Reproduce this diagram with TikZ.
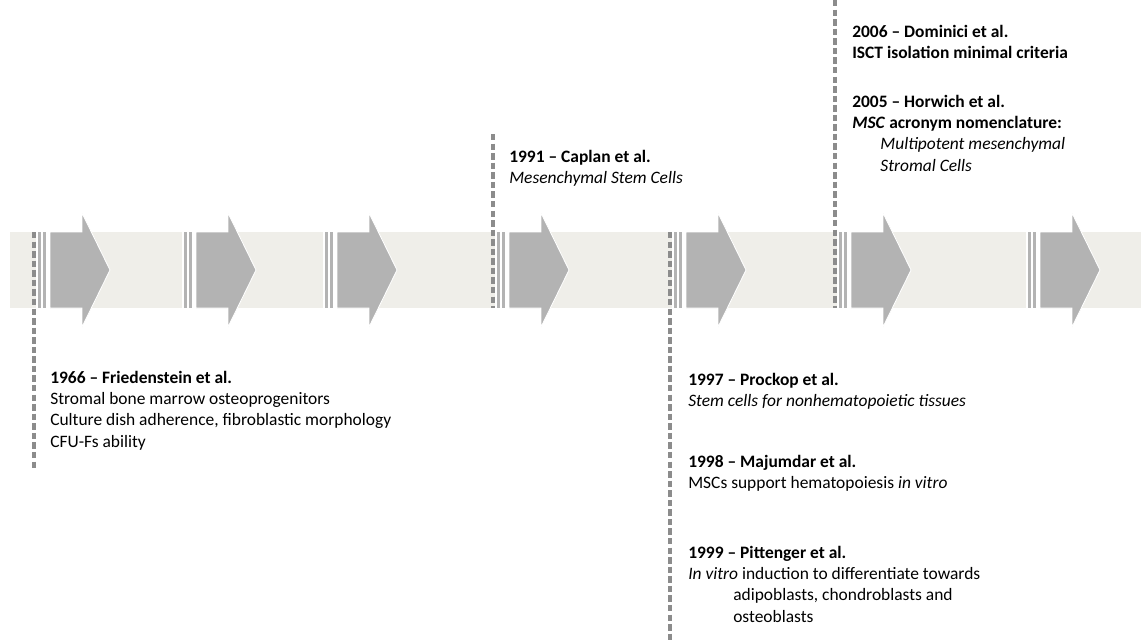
\documentclass[tikz,border=0pt]{standalone}
\usepackage{fontspec}
\setmainfont{Carlito}

\definecolor{bandcol}{HTML}{EFEEE9}
\definecolor{arrowgray}{HTML}{B3B3B3}
\definecolor{guidegray}{HTML}{8C8C8C}

\begin{document}
\begin{tikzpicture}[x=0.025cm, y=-0.025cm]
    \tikzset{
        arrowbody/.style={fill=arrowgray, draw=white, line width=0.6pt},
        guide/.style={draw=guidegray, line width=2.5pt, dash pattern=on 4.6pt off 2.2pt},
        entry/.style={anchor=north west, inner sep=0pt, align=left,
            font=\fontsize{12.4}{15.1}\selectfont},
    }

    \useasboundingbox (0,0) rectangle (1141,640);

    % Band
    \fill[bandcol] (10,232) rectangle (1141,308);

    % Arrows
    \foreach \b in {50,196,337,509,686,851,1040} {
        \fill[white] (\b-14,232) rectangle (\b,308);
        \fill[arrowgray] (\b-12,232) rectangle (\b-9.5,308);
        \fill[arrowgray] (\b-7,232) rectangle (\b-4.5,308);
        \draw[arrowbody] (\b,232) -- (\b+32,232) -- (\b+32,213) -- (\b+60,270)
            -- (\b+32,327) -- (\b+32,308) -- (\b,308) -- cycle;
    }

    % Guide lines
    \coordinate (g1top) at (34,232);
    \coordinate (g1bot) at (34,470);
    \coordinate (g2top) at (493,134);
    \coordinate (g2bot) at (493,308);
    \coordinate (g3top) at (670,232);
    \coordinate (g3bot) at (670,640);
    \coordinate (g4top) at (835,0);
    \coordinate (g4bot) at (835,308);
    \draw[guide] (g1top) -- (g1bot);
    \draw[guide] (g2top) -- (g2bot);
    \draw[guide] (g3top) -- (g3bot);
    \draw[guide] (g4top) -- (g4bot);

    % Entries
    \node[entry] (friedenstein) at (50,371) {\textbf{1966 – Friedenstein et al.}\\
        Stromal bone marrow osteoprogenitors\\
        Culture dish adherence, fibroblastic morphology\\
        CFU-Fs ability};
    \node[entry] (caplan) at (509,150) {\textbf{1991 – Caplan et al.}\\
        \textit{Mesenchymal Stem Cells}};
    \node[entry] (prockop) at (688,373) {\textbf{1997 – Prockop et al.}\\
        \textit{Stem cells for nonhematopoietic tissues}};
    \node[entry] (majumdar) at (688,455) {\textbf{1998 – Majumdar et al.}\\
        MSCs support hematopoiesis \textit{in vitro}};
    \node[entry] (pittenger) at (688,546) {\textbf{1999 – Pittenger et al.}\\
        \textit{In vitro} induction to differentiate towards\\
        \hspace*{32pt}adipoblasts, chondroblasts and\\
        \hspace*{32pt}osteoblasts};
    \node[entry] (dominici) at (852,25) {\textbf{2006 – Dominici et al.}\\
        \textbf{ISCT isolation minimal criteria}};
    \node[entry] (horwich) at (852,95) {\textbf{2005 – Horwich et al.}\\
        \textbf{\textit{MSC} acronym nomenclature:}\\
        \hspace*{20pt}\textit{Multipotent mesenchymal}\\
        \hspace*{20pt}\textit{Stromal Cells}};
\end{tikzpicture}
\end{document}
